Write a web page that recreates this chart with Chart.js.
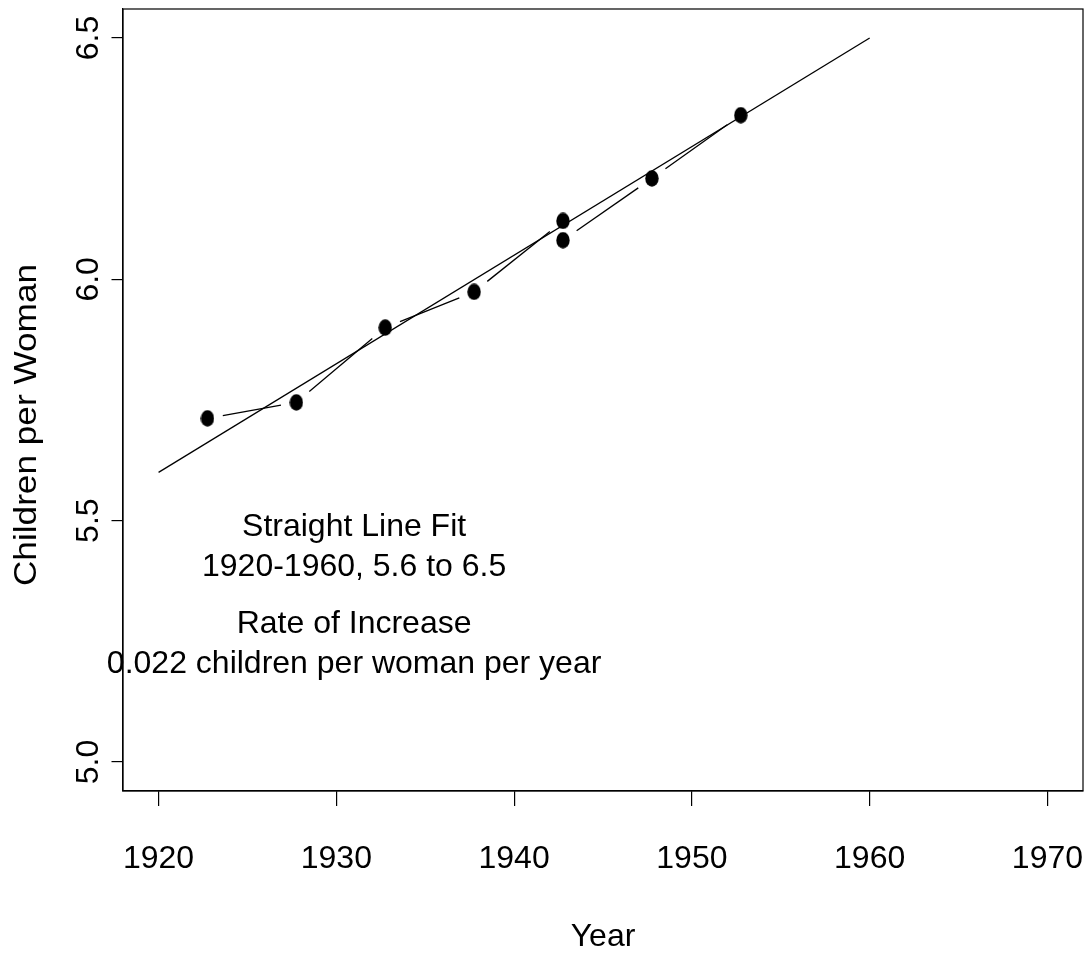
<!DOCTYPE html>
<html>
<head>
<meta charset="utf-8">
<script src="https://cdn.jsdelivr.net/npm/chart.js@4"></script>
<style>
  html, body { margin: 0; padding: 0; background: #fff; }
  #wrap { width: 1092px; height: 953px; }
</style>
</head>
<body>
<div id="wrap"><canvas id="c" width="1092" height="953"></canvas></div>
<script>
// ---- data ----
const years = [1922.75, 1927.75, 1932.75, 1937.75, 1942.75, 1942.75, 1947.75, 1952.75];
const children = [5.712, 5.745, 5.900, 5.974, 6.121, 6.081, 6.209, 6.340];
const fitYears = [1920, 1960];
const fitValues = [5.6, 6.5];
const xTicks = [1920, 1930, 1940, 1950, 1960, 1970];
const xTickLabels = ["1920", "1930", "1940", "1950", "1960", "1970"];
const yTicks = [5.0, 5.5, 6.0, 6.5];
const yTickLabels = ["5.0", "5.5", "6.0", "6.5"];
const xTitle = "Year";
const yTitle = "Children per Woman";
const noteLines1 = ["Straight Line Fit", "1920-1960, 5.6 to 6.5"];
const noteLines2 = ["Rate of Increase", "0.022 children per woman per year"];
const noteX = [1931, 1931];
const noteY = [5.45, 5.25];

const FONT = '32px "Liberation Sans", Arial, sans-serif';
const INK = '#000';

// filled ellipse marker
function makeMarker(w, h) {
  const c = document.createElement('canvas');
  c.width = w; c.height = h;
  const g = c.getContext('2d');
  g.fillStyle = INK;
  g.beginPath();
  g.ellipse(w / 2, h / 2, w / 2 - 0.3, h / 2 - 0.3, 0, 0, Math.PI * 2);
  g.fill();
  return c;
}
const marker = makeMarker(14, 17);

const decorPlugin = {
  id: 'decor',
  afterDatasetsDraw(chart) {
    const ctx = chart.ctx;
    const meta = chart.getDatasetMeta(1);
    const pts = meta.data;
    const r = 15.5, stretch = 1.28;
    ctx.save();
    ctx.strokeStyle = INK;
    ctx.lineWidth = 1.3;
    for (let i = 0; i < pts.length - 1; i++) {
      const p = pts[i], q = pts[i + 1];
      const dx = q.x - p.x, dy = q.y - p.y;
      const lo = Math.sqrt(dx * dx + (dy / stretch) * (dy / stretch));
      if (lo <= 2 * r) continue;
      const f = r / lo;
      ctx.beginPath();
      ctx.moveTo(p.x + f * dx, p.y + f * dy);
      ctx.lineTo(q.x - f * dx, q.y - f * dy);
      ctx.stroke();
    }
    ctx.restore();
  },
  afterDraw(chart) {
    const ctx = chart.ctx;
    const a = chart.chartArea;
    const xs = chart.scales.x, ys = chart.scales.y;
    ctx.save();
    // box
    ctx.strokeStyle = INK;
    ctx.lineWidth = 1.2;
    ctx.strokeRect(a.left, a.top, a.right - a.left, a.bottom - a.top);
    ctx.fillStyle = INK;
    ctx.font = FONT;
    // x tick labels
    ctx.textAlign = 'center';
    ctx.textBaseline = 'alphabetic';
    xTicks.forEach((v, i) => {
      ctx.fillText(xTickLabels[i], xs.getPixelForValue(v), 868);
    });
    // x title
    ctx.fillText(xTitle, (a.left + a.right) / 2, 946);
    // y tick labels (rotated)
    yTicks.forEach((v, i) => {
      ctx.save();
      ctx.translate(98, ys.getPixelForValue(v));
      ctx.rotate(-Math.PI / 2);
      ctx.fillText(yTickLabels[i], 0, 0);
      ctx.restore();
    });
    // y title
    ctx.save();
    ctx.translate(36, 425);
    ctx.rotate(-Math.PI / 2);
    ctx.scale(1.1, 1);
    ctx.fillText(yTitle, 0, 0);
    ctx.restore();
    // annotations
    [noteLines1, noteLines2].forEach((lines, k) => {
      const cx = xs.getPixelForValue(noteX[k]);
      const cy = ys.getPixelForValue(noteY[k]);
      const lh = 40;
      const n = lines.length;
      lines.forEach((t, j) => {
        const mid = cy + (j - (n - 1) / 2) * lh;
        ctx.fillText(t, cx, mid + 11.5);
      });
    });
    ctx.restore();
  }
};

new Chart(document.getElementById('c'), {
  type: 'scatter',
  data: {
    datasets: [
      {
        type: 'line',
        data: fitYears.map((x, i) => ({ x: x, y: fitValues[i] })),
        borderColor: INK,
        borderWidth: 1.3,
        pointRadius: 0,
        fill: false,
        tension: 0
      },
      {
        type: 'scatter',
        data: years.map((x, i) => ({ x: x, y: children[i] })),
        pointStyle: marker,
        pointRadius: 8,
        backgroundColor: INK,
        borderColor: INK,
        showLine: false
      }
    ]
  },
  options: {
    responsive: false,
    animation: false,
    devicePixelRatio: 1,
    layout: { padding: { top: 9, right: 6, left: 0, bottom: 0 } },
    plugins: { legend: { display: false }, tooltip: { enabled: false } },
    scales: {
      x: {
        type: 'linear',
        min: 1918, max: 1972,
        afterBuildTicks: s => { s.ticks = xTicks.map(v => ({ value: v })); },
        afterFit: s => { s.height = 162; },
        ticks: { display: false },
        grid: { drawOnChartArea: false, drawTicks: true, tickLength: 15, color: INK, lineWidth: 1.2 },
        border: { display: true, color: INK, width: 1.2 }
      },
      y: {
        type: 'linear',
        min: 4.94, max: 6.56,
        afterBuildTicks: s => { s.ticks = yTicks.map(v => ({ value: v })); },
        afterFit: s => { s.width = 123; },
        ticks: { display: false },
        grid: { drawOnChartArea: false, drawTicks: true, tickLength: 11.5, color: INK, lineWidth: 1.2 },
        border: { display: true, color: INK, width: 1.2 }
      }
    }
  },
  plugins: [decorPlugin]
});
</script>
</body>
</html>
